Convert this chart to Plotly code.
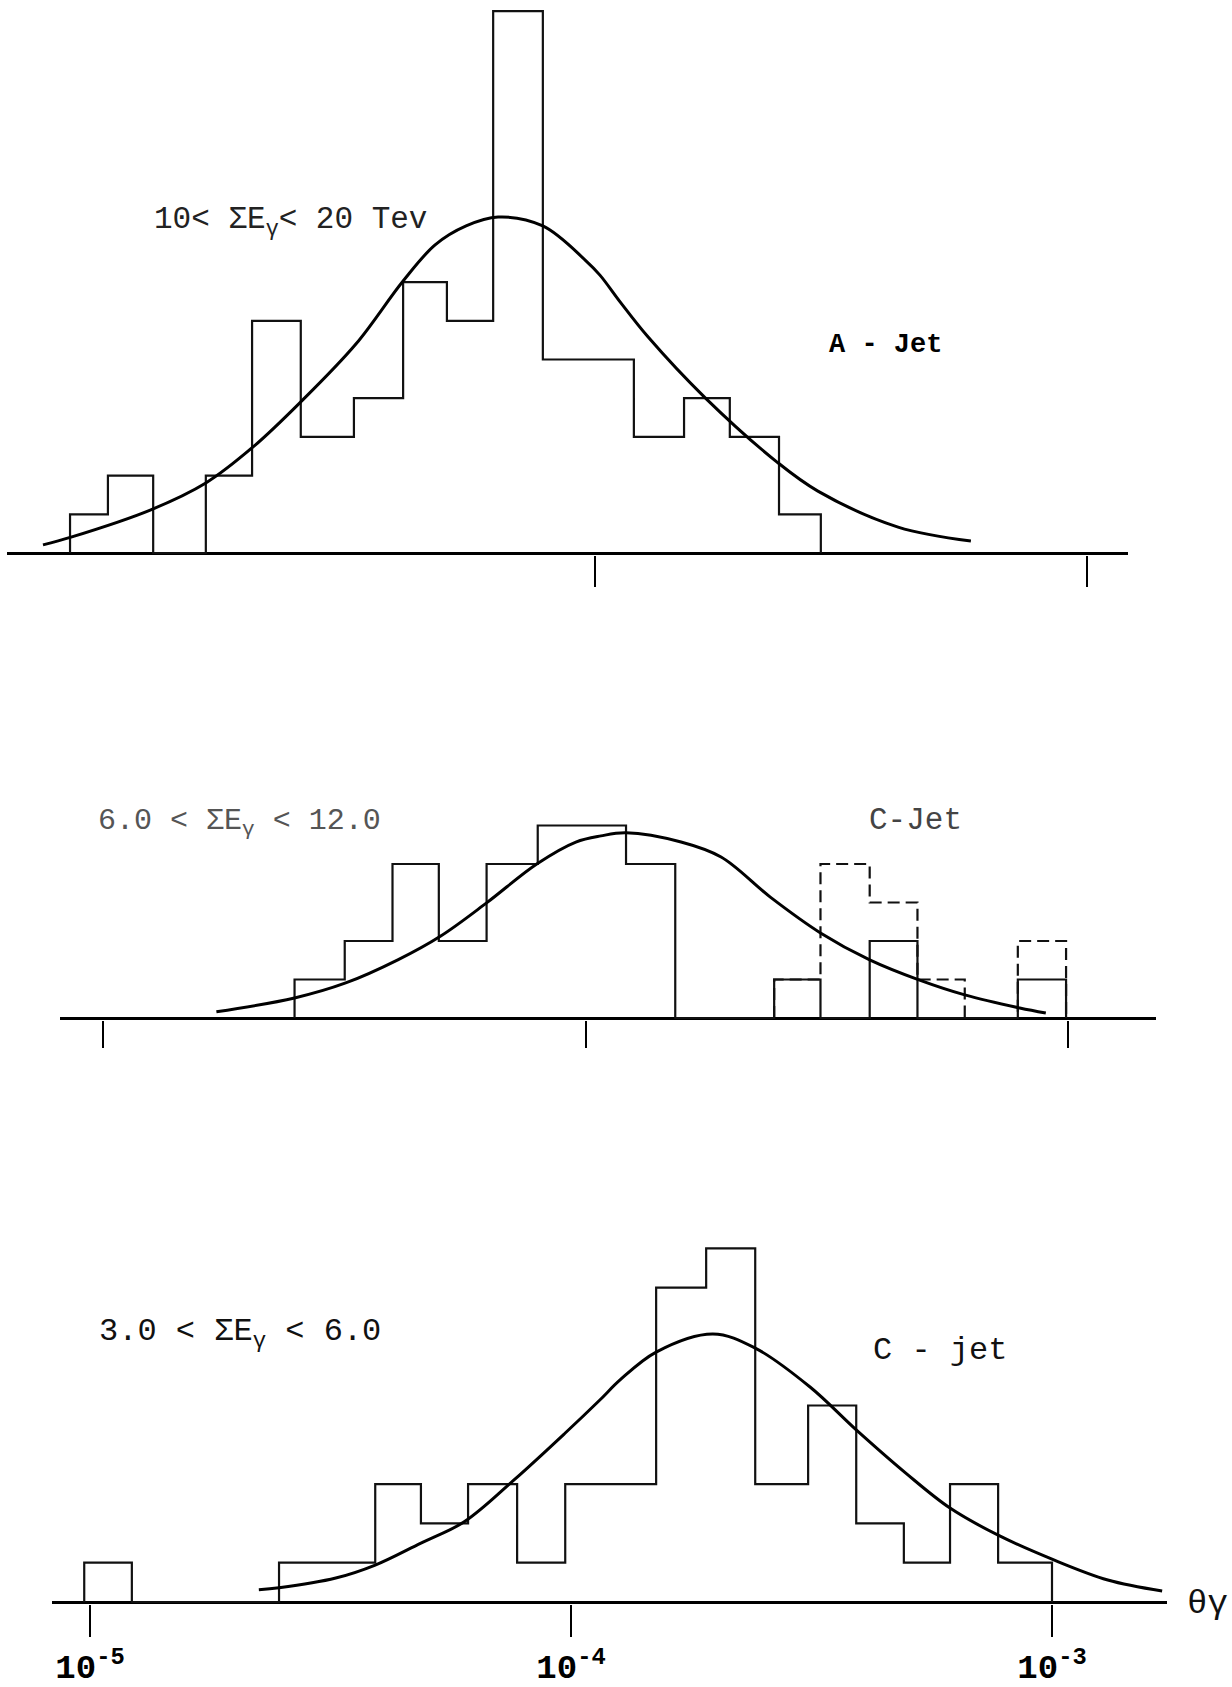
import plotly.graph_objects as go

# ---------------------------------------------------------------
# Angular distributions of gamma rays, log10(theta) bin edges and
# number of gammas per bin, with the fitted curves.
# ---------------------------------------------------------------

# A-jet, 10 < sum E_gamma < 20 TeV
a_edges = [-5.067, -4.990, -4.898, -4.791, -4.697, -4.598, -4.490, -4.390,
           -4.301, -4.207, -4.106, -3.921, -3.819, -3.726, -3.626, -3.541]
a_counts = [1, 2, 0, 2, 6, 3, 4, 7, 6, 14, 5, 3, 4, 3, 1]
a_fit_logx = [-5.122, -5.065, -4.904, -4.791, -4.695, -4.600, -4.486, -4.390,
              -4.325, -4.262, -4.197, -4.106, -4.020, -3.990, -3.949, -3.892,
              -3.776, -3.630, -3.547, -3.384, -3.236]
a_fit_y = [0.21, 0.41, 1.11, 1.81, 2.74, 3.88, 5.40, 7.03,
           7.96, 8.45, 8.68, 8.45, 7.57, 7.18, 6.49, 5.58,
           4.01, 2.35, 1.60, 0.67, 0.31]

# C-jet, 6.0 < sum E_gamma < 12.0
c1_edges = [-4.603, -4.499, -4.400, -4.304, -4.205, -4.099, -3.916, -3.814,
            -3.609, -3.513, -3.411, -3.312, -3.214, -3.104, -3.004]
c1_counts = [1, 2, 4, 2, 4, 5, 4, 0, 1, 0, 2, 0, 0, 1]
# dashed outline (tail bins including uncertain cases)
c1_tail_edges = [-3.609, -3.513, -3.411, -3.312, -3.214, -3.104, -3.004]
c1_tail_counts = [1, 4, 3, 1, 0, 2]
c1_fit_logx = [-4.765, -4.603, -4.497, -4.389, -4.300, -4.205, -4.101, -4.020,
               -3.968, -3.916, -3.802, -3.719, -3.617, -3.513, -3.411, -3.309,
               -3.214, -3.100, -3.046]
c1_fit_y = [0.16, 0.52, 0.91, 1.51, 2.13, 2.99, 4.00, 4.57,
            4.73, 4.81, 4.57, 4.18, 3.14, 2.21, 1.51, 0.99,
            0.60, 0.26, 0.13]

# C-jet, 3.0 < sum E_gamma < 6.0
c2_edges = [-5.012, -4.913, -4.607, -4.407, -4.312, -4.214, -4.112, -4.012,
            -3.823, -3.719, -3.617, -3.507, -3.407, -3.308, -3.212, -3.112, -3.000]
c2_counts = [1, 0, 1, 3, 2, 3, 1, 3, 8, 9, 3, 5, 2, 1, 3, 1]
c2_fit_logx = [-4.649, -4.607, -4.489, -4.407, -4.312, -4.222, -4.119, -4.012,
               -3.940, -3.898, -3.823, -3.705, -3.617, -3.503, -3.407, -3.304,
               -3.212, -3.112, -3.000, -2.884, -2.771]
c2_fit_y = [0.31, 0.36, 0.61, 0.94, 1.50, 2.04, 3.10, 4.30,
            5.14, 5.65, 6.36, 6.82, 6.46, 5.47, 4.38, 3.28,
            2.39, 1.70, 1.09, 0.56, 0.28]

tick_vals = [1e-5, 1e-4, 1e-3]
tick_text = ["10<sup>-5</sup>", "10<sup>-4</sup>", "10<sup>-3</sup>"]

# ---------------------------------------------------------------
W, H = 1232, 1687
FONT = "Liberation Mono, Courier New, monospace"
AXIS_W = 3  # width of the baseline of each panel


def step_path(edges, counts):
    """Outline of a histogram as a closed step line."""
    xs, ys = [10 ** edges[0]], [0]
    for i, c in enumerate(counts):
        xs += [10 ** edges[i], 10 ** edges[i + 1]]
        ys += [c, c]
    xs.append(10 ** edges[-1])
    ys.append(0)
    return xs, ys


fig = go.Figure()


def add_panel(n, edges, counts, fit_x, fit_y):
    xa, ya = ("x" if n == 1 else f"x{n}"), ("y" if n == 1 else f"y{n}")
    hx, hy = step_path(edges, counts)
    fig.add_trace(go.Scatter(x=hx, y=hy, mode="lines", xaxis=xa, yaxis=ya,
                             line=dict(color="#111", width=2.2),
                             hoverinfo="skip"))
    fig.add_trace(go.Scatter(x=[10 ** v for v in fit_x], y=fit_y, mode="lines",
                             xaxis=xa, yaxis=ya,
                             line=dict(color="#000", width=3, shape="spline",
                                       smoothing=1.0),
                             hoverinfo="skip"))


# dashed tail drawn first so the solid outline sits on top
tx, ty = step_path(c1_tail_edges, c1_tail_counts)
fig.add_trace(go.Scatter(x=tx, y=ty, mode="lines", xaxis="x2", yaxis="y2",
                         line=dict(color="#111", width=2.2, dash="12px,6px"),
                         hoverinfo="skip"))

add_panel(1, a_edges, a_counts, a_fit_logx, a_fit_y)
add_panel(2, c1_edges, c1_counts, c1_fit_logx, c1_fit_y)
add_panel(3, c2_edges, c2_counts, c2_fit_logx, c2_fit_y)


def x_axis(line_px, ref_px, ref_exp, decade_px, ticks, tick_end, axis_px,
           anchor, labels=False):
    lo = ref_exp + (line_px[0] - ref_px) / decade_px
    hi = ref_exp + (line_px[1] - ref_px) / decade_px
    ax = dict(type="log", range=[lo, hi], anchor=anchor,
              domain=[line_px[0] / W, line_px[1] / W],
              showline=False,
              ticks="outside", ticklen=tick_end - (axis_px + AXIS_W / 2),
              tickwidth=2, tickcolor="#000",
              tickvals=ticks, showgrid=False, zeroline=False,
              showticklabels=labels, fixedrange=True)
    if labels:
        ax.update(ticktext=tick_text,
                  tickfont=dict(family=FONT, size=34, color="#000", weight="bold"))
    return ax


def y_axis(top_px, axis_px, px_per_count, anchor):
    # the baseline is the y = 0 zero line; the plot area ends just under it
    bottom_px = axis_px + AXIS_W / 2
    return dict(domain=[1 - bottom_px / H, 1 - top_px / H],
                range=[-(AXIS_W / 2) / px_per_count,
                       (axis_px - top_px) / px_per_count],
                showline=False, showticklabels=False, ticks="",
                showgrid=False, zeroline=True, zerolinecolor="#000",
                zerolinewidth=AXIS_W, anchor=anchor, fixedrange=True)


fig.update_layout(
    xaxis=x_axis((7, 1128), 595, -4, 492, [1e-4, 1e-3], 586, 553, "y"),
    xaxis2=x_axis((60, 1156), 103, -5, 482.5, tick_vals, 1047, 1018, "y2"),
    xaxis3=x_axis((52, 1167), 90, -5, 481, tick_vals, 1636, 1602, "y3",
                  labels=True),
    yaxis=y_axis(0, 553, 38.7, "x"),
    yaxis2=y_axis(700, 1018, 38.5, "x2"),
    yaxis3=y_axis(1200, 1602, 39.3, "x3"),
)


def note(text, x_px, y_px, size, color="#000", bold=False):
    fig.add_annotation(text=text, x=x_px / W, y=1 - y_px / H,
                       xref="paper", yref="paper", showarrow=False,
                       xanchor="center", yanchor="middle",
                       font=dict(family=FONT, size=size, color=color,
                                 weight="bold" if bold else "normal"))


note("10&lt; ΣE<sub>γ</sub>&lt; 20 Tev", 290, 222, 31, "#222")
note("A - Jet", 885, 345, 27, "#000", bold=True)
note("6.0 &lt; ΣE<sub>γ</sub> &lt; 12.0", 239, 822, 30, "#555")
note("C-Jet", 915, 820, 31, "#444")
note("3.0 &lt; ΣE<sub>γ</sub> &lt; 6.0", 240, 1333, 32, "#111")
note("C - jet", 940, 1350, 32, "#111")
note("θγ", 1207, 1604, 34, "#111")

fig.update_layout(
    width=W, height=H,
    margin=dict(l=0, r=0, t=0, b=0),
    paper_bgcolor="white", plot_bgcolor="white",
    showlegend=False,
)

fig.write_html("out.html")
